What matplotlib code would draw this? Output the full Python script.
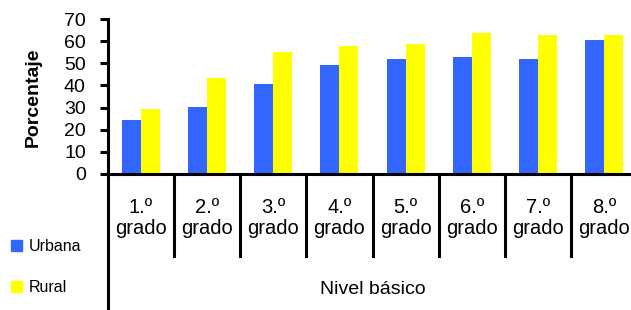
import numpy as np
import matplotlib
matplotlib.use('Agg')
import matplotlib.pyplot as plt
from matplotlib.lines import Line2D
from matplotlib.patches import Patch

grades = ['1.º\ngrado', '2.º\ngrado', '3.º\ngrado', '4.º\ngrado',
          '5.º\ngrado', '6.º\ngrado', '7.º\ngrado', '8.º\ngrado']
urbana = [24.5, 30.4, 40.6, 49.2, 51.8, 52.7, 51.8, 60.4]
rural = [29.4, 43.2, 55.3, 57.8, 58.8, 63.9, 63.0, 63.0]
yticks = [0, 10, 20, 30, 40, 50, 60, 70]

plt.rcParams['font.family'] = ['Liberation Sans', 'DejaVu Sans']

W, H = 631, 310
fig = plt.figure(figsize=(W / 100, H / 100), dpi=100)
x0, x1 = 108, 637
y0, y1 = 174, 19
ax = fig.add_axes([x0 / W, (H - y0) / H, (x1 - x0) / W, (y0 - y1) / H])

x = np.arange(len(grades))
bw = 0.287
ax.bar(x - bw / 2, urbana, bw, color='#3366FF', label='Urbana')
ax.bar(x + bw / 2, rural, bw, color='#FFFF00', label='Rural')

ax.set_xlim(-0.5, len(grades) - 0.5)
ax.set_ylim(0, 70)
ax.set_yticks(yticks)
ax.tick_params(axis='y', labelsize=14, length=6, width=2.2, pad=10)
ax.set_xticks([])
for s in ['top', 'right']:
    ax.spines[s].set_visible(False)
for s in ['left', 'bottom']:
    ax.spines[s].set_linewidth(2.2)

# long left axis line down to the bottom
fig.add_artist(Line2D([x0 / W, x0 / W], [0, (H - y0) / H], color='black', lw=2.2))

# group separators below the axis
sep_bottom = -(256 - y0) / (y0 - y1)
trans = ax.get_xaxis_transform()
for b in x + 0.5:
    ax.plot([b, b], [0, sep_bottom], color='black', lw=2.2, transform=trans, clip_on=False)

label_y = -(218 - y0) / (y0 - y1)
for xi, lab in zip(x, grades):
    ax.text(xi, label_y, lab, transform=trans, ha='center', va='center',
            fontsize=14.5, linespacing=1.15)

ax.text(0.5, -(290 - y0) / (y0 - y1), 'Nivel básico', transform=ax.transAxes,
        ha='center', va='center', fontsize=14)

fig.text(33 / W, (H - 97) / H, 'Porcentaje', rotation=90, ha='center', va='center',
         fontsize=14, fontweight='bold')

handles = [Patch(color='#3366FF', label='Urbana'), Patch(color='#FFFF00', label='Rural')]
fig.legend(handles=handles, loc='center left', bbox_to_anchor=(0, (H - 267) / H),
           frameon=False, fontsize=11.5, handlelength=0.7, handleheight=0.7,
           handletextpad=0.4, labelspacing=1.6, borderaxespad=0.3)

fig.savefig('out.png', dpi=100)
